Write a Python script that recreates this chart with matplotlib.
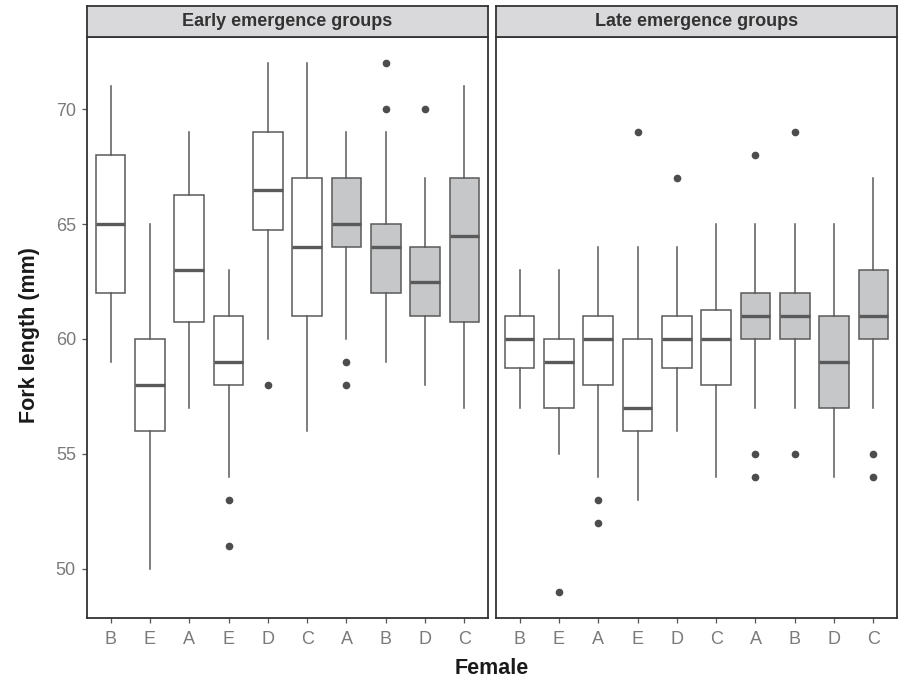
import matplotlib
matplotlib.use("Agg")
import matplotlib.pyplot as plt

plt.rcParams['font.family'] = ['Liberation Sans', 'DejaVu Sans']

females = ["B", "E", "A", "E", "D", "C", "A", "B", "D", "C"]
is_grey = [False, False, False, False, False, False, True, True, True, True]

# Early emergence groups: whisker low, Q1, median, Q3, whisker high, outliers
early_wlo = [59, 50, 57, 54, 60, 56, 60, 59, 58, 57]
early_q1 = [62, 56, 60.75, 58, 64.75, 61, 64, 62, 61, 60.75]
early_med = [65, 58, 63, 59, 66.5, 64, 65, 64, 62.5, 64.5]
early_q3 = [68, 60, 66.25, 61, 69, 67, 67, 65, 64, 67]
early_whi = [71, 65, 69, 63, 72, 72, 69, 69, 67, 71]
early_out = [[], [], [], [53, 51], [58], [], [59, 58], [72, 70], [70], []]

# Late emergence groups
late_wlo = [57, 55, 54, 53, 56, 54, 57, 57, 54, 57]
late_q1 = [58.75, 57, 58, 56, 58.75, 58, 60, 60, 57, 60]
late_med = [60, 59, 60, 57, 60, 60, 61, 61, 59, 61]
late_q3 = [61, 60, 61, 60, 61, 61.25, 62, 62, 61, 63]
late_whi = [63, 63, 64, 64, 64, 65, 65, 65, 65, 67]
late_out = [[], [49], [53, 52], [69], [67], [], [68, 55, 54], [69, 55], [], [55, 54]]

panels = [
    ("Early emergence groups", early_wlo, early_q1, early_med, early_q3, early_whi, early_out),
    ("Late emergence groups", late_wlo, late_q1, late_med, late_q3, late_whi, late_out),
]

W, H = 898, 680
fig = plt.figure(figsize=(W / 100, H / 100), dpi=100)

edge = "#5a5a5a"
grey_fill = "#c6c7c9"
panel_x = [(87, 488), (496, 897)]
ax_top, ax_bot = 37, 618
strip_top = 6

for (title, wlo, q1, med, q3, whi, out), (x0, x1) in zip(panels, panel_x):
    ax = fig.add_axes([x0 / W, 1 - ax_bot / H, (x1 - x0) / W, (ax_bot - ax_top) / H])
    stats = []
    for i in range(len(females)):
        stats.append(dict(whislo=wlo[i], q1=q1[i], med=med[i], q3=q3[i], whishi=whi[i],
                          fliers=out[i], label=females[i]))
    bp = ax.bxp(stats, positions=range(1, 11), widths=0.75, patch_artist=True,
                showcaps=False,
                boxprops=dict(edgecolor=edge, linewidth=1.1),
                whiskerprops=dict(color=edge, linewidth=1.1),
                medianprops=dict(color=edge, linewidth=2.4, solid_capstyle='butt'),
                flierprops=dict(marker='o', markerfacecolor='#4d4d4d', markeredgecolor='#4d4d4d',
                                markersize=4.5, linestyle='none'))
    for patch, g in zip(bp['boxes'], is_grey):
        patch.set_facecolor(grey_fill if g else 'white')
    ax.set_xlim(0.4, 10.6)
    ax.set_ylim(47.85, 73.15)
    ax.set_yticks([50, 55, 60, 65, 70])
    ax.set_xticks(range(1, 11))
    ax.set_xticklabels(females)
    for sp in ax.spines.values():
        sp.set_color('#333333')
        sp.set_linewidth(1.3)
    ax.tick_params(axis='both', colors='#555555', labelcolor='#7a7a7a', labelsize=13,
                   length=3.5, width=0.9, direction='out')
    ax.tick_params(axis='x', pad=6)
    ax.tick_params(axis='y', pad=4.5)
    if x0 != panel_x[0][0]:
        ax.tick_params(axis='y', left=False, labelleft=False)
    # strip
    sax = fig.add_axes([x0 / W, 1 - ax_top / H, (x1 - x0) / W, (ax_top - strip_top) / H])
    sax.set_xticks([])
    sax.set_yticks([])
    sax.set_facecolor('#d9d9db')
    for sp in sax.spines.values():
        sp.set_color('#333333')
        sp.set_linewidth(1.3)
    sax.text(0.5, 0.5, title, transform=sax.transAxes, ha='center', va='center',
             fontsize=13, fontweight='bold', color='#333333')

fig.text(29 / W, 1 - 335 / H, "Fork length (mm)", rotation=90, ha='center', va='center',
         fontsize=15.5, fontweight='bold', color='#1a1a1a')
fig.text(492 / W, 1 - 669 / H, "Female", ha='center', va='center',
         fontsize=15.5, fontweight='bold', color='#1a1a1a')

fig.savefig("out.png", dpi=100)
